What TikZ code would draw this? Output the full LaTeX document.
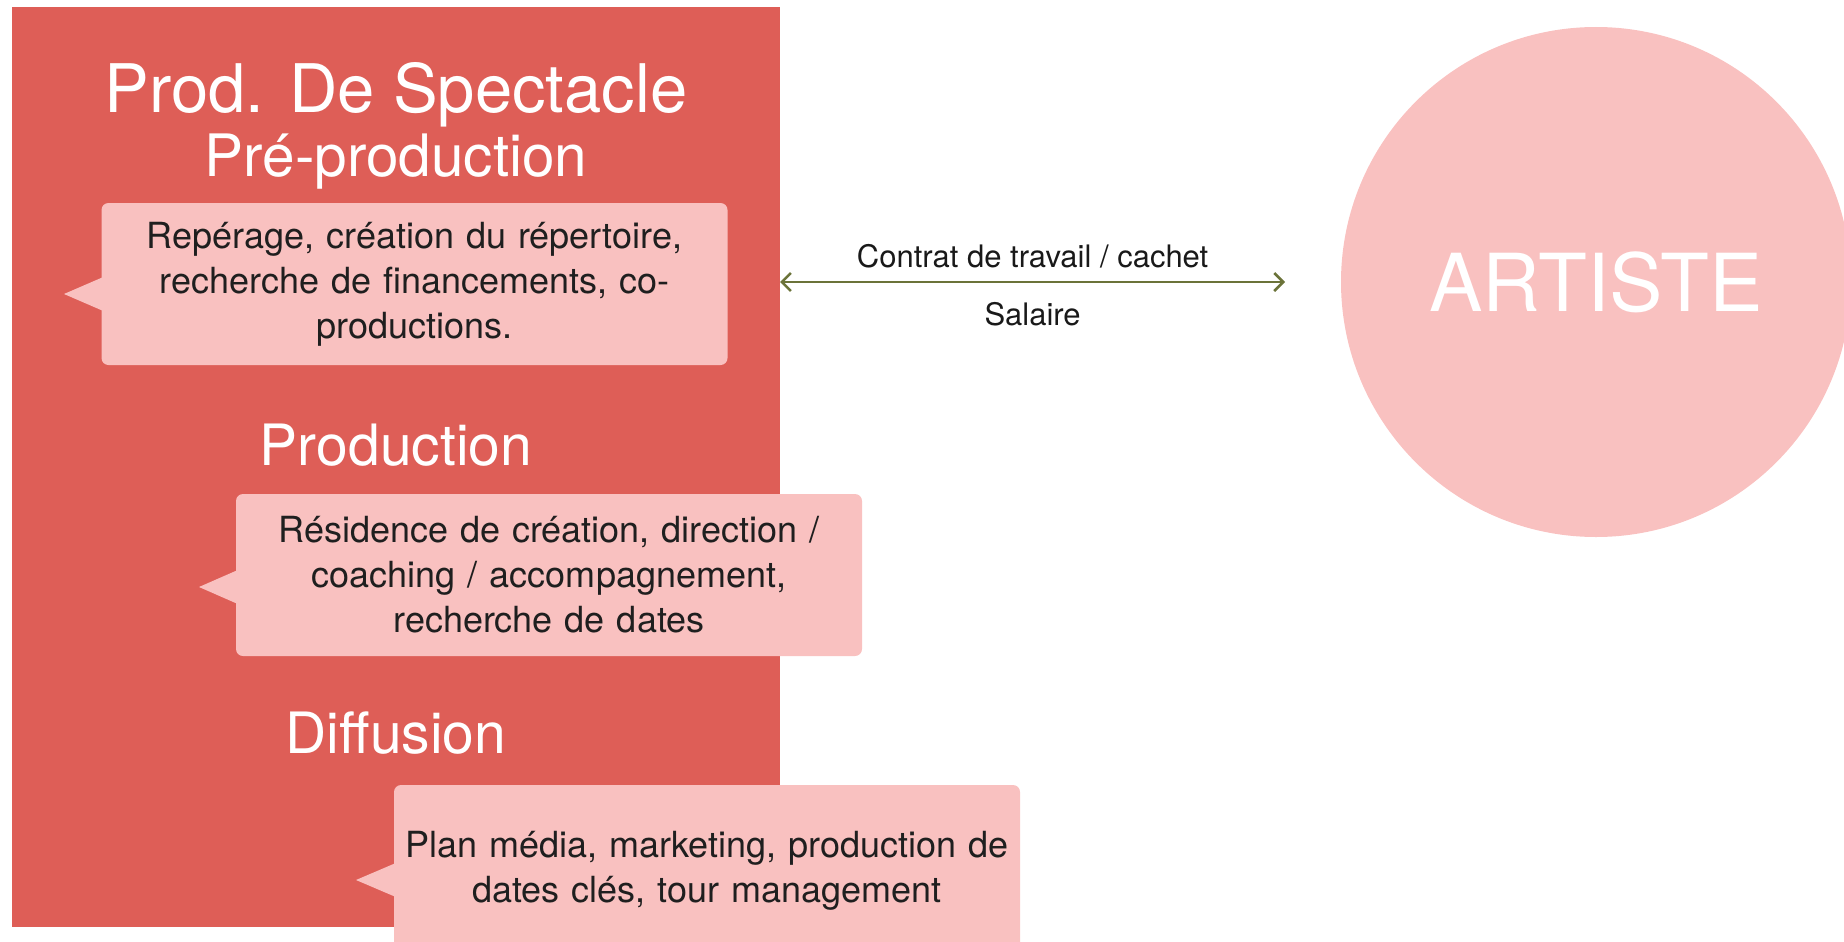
\documentclass[tikz,border=0pt]{standalone}
\usepackage{fontspec}
\setmainfont{TeX Gyre Heros}
\usetikzlibrary{arrows.meta,calc}
\definecolor{prodred}{HTML}{DE5E57}
\definecolor{bubblepink}{HTML}{F9C1C0}
\definecolor{linkolive}{HTML}{6B7339}
\begin{document}
\begin{tikzpicture}[x=1pt,y=-1pt,
  stage/.style={white,font=\fontsize{57}{60}\selectfont,anchor=base},
  bubble/.style={fill=bubblepink,rounded corners=7pt,text width=610pt,inner xsep=8pt,
    minimum height=162pt,align=center,text=black!88,font=\fontsize{36}{45}\selectfont},
  link/.style={linkolive,line width=2.5pt,
    {Straight Barb[length=9pt,width=18pt]}-{Straight Barb[length=9pt,width=18pt]}},
  linklabel/.style={black!90,font=\fontsize{31}{36}\selectfont}]
  \useasboundingbox (0,0) rectangle (1844,942);
  \node[fill=prodred,minimum width=768pt,minimum height=920pt,inner sep=0] (prod) at (396,467) {};
  \node[stage,font=\fontsize{67}{70}\selectfont] (title) at (396,112) {Prod. De Spectacle};
  \node[stage,font=\fontsize{58.5}{60}\selectfont] (pre) at (396,176) {Pré-production};
  \node[stage] (production) at (396,465) {Production};
  \node[stage] (diffusion) at (396,753) {Diffusion};
  \node[bubble] (c1) at (414.5,284) {Repérage, création du répertoire,\\ recherche de financements, co-\\ productions.};
  \node[bubble] (c2) at (549,575) {Résidence de création, direction /\\ coaching / accompagnement,\\ recherche de dates};
  \node[bubble,minimum height=172pt] (c3) at (707,871) {Plan média, marketing, production de\\ dates clés, tour management};
  \coordinate (tip1) at (64,294);
  \coordinate (tip2) at (199,587);
  \coordinate (tip3) at (356,880);
  \foreach \c in {1,2,3}
    \fill[bubblepink] (tip\c) -- ($(c\c.west |- tip\c)+(2,-17)$) -- ($(c\c.west |- tip\c)+(2,17)$) -- cycle;
  \node[circle,fill=bubblepink,minimum size=510pt,text=white,font=\fontsize{80}{80}\selectfont] (artiste) at (1596,282) {ARTISTE};
  \coordinate (artL) at (1285,282);
  \draw[link] (prod.east |- artL) -- node[above=9pt,linklabel]{Contrat de travail / cachet}
    node[below=16pt,linklabel]{Salaire} (artL);
\end{tikzpicture}
\end{document}
